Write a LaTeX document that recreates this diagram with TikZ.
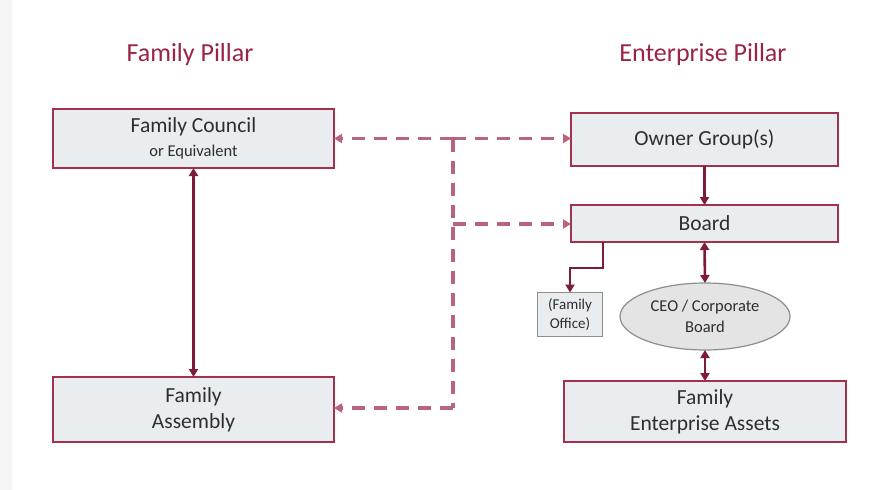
\documentclass[tikz,border=0pt]{standalone}
\usepackage{fontspec}
\setmainfont{Carlito}
\usetikzlibrary{arrows.meta,shapes.geometric}
\definecolor{titlered}{HTML}{9B2445}
\definecolor{boxline}{HTML}{A2324C}
\definecolor{boxfill}{HTML}{E9EDEF}
\definecolor{solidarrow}{HTML}{7C1C36}
\definecolor{dasharrow}{HTML}{B8647F}
\definecolor{textgrey}{HTML}{2E2E2E}
\definecolor{greyline}{HTML}{8E8E8E}
\definecolor{ovalfill}{HTML}{E4E4E4}
\begin{document}
\begin{tikzpicture}[x=1pt,y=-1pt,
  title/.style={text=titlered,font=\fontsize{26}{31}\selectfont},
  pillarbox/.style={draw=boxline,line width=2pt,fill=boxfill,rectangle,
    inner sep=0pt,outer sep=0pt,text=textgrey,align=center,
    font=\fontsize{21.5}{26}\selectfont},
  officebox/.style={draw=greyline,line width=1.2pt,fill=boxfill,rectangle,
    inner sep=0pt,outer sep=0pt,text=textgrey,align=center,
    font=\fontsize{15}{19}\selectfont},
  oval/.style={draw=greyline,line width=1.2pt,fill=ovalfill,ellipse,
    inner sep=0pt,outer sep=0pt,text=textgrey,align=center,
    font=\fontsize{16.5}{21}\selectfont},
  solidlink/.style={draw=solidarrow,line width=2.6pt,
    arrows={-Triangle[length=8pt,width=9pt]}},
  solidboth/.style={solidlink,arrows={Triangle[length=8pt,width=9pt]-Triangle[length=8pt,width=9pt]}},
  dashlink/.style={draw=dasharrow,line width=3.2pt,dash pattern=on 13pt off 9pt,
    arrows={-Triangle[length=8pt,width=9pt]}},
  dashline/.style={draw=dasharrow,line width=3.2pt,dash pattern=on 13pt off 9pt}]

% page and the faint shaded strip on the left edge
\fill[white] (0,0) rectangle (871,490);
\fill[black!4] (0,0) rectangle (12,490);
\useasboundingbox (0,0) rectangle (871,490);

% column titles
\node[title] (famtitle) at (190,55) {Family Pillar};
\node[title] (enttitle) at (703,55) {Enterprise Pillar};

% family pillar
\node[pillarbox,minimum width=281pt,minimum height=59pt] (council) at (193.5,138.5)
  {Family Council\\[-2pt]{\fontsize{16.5}{20}\selectfont or Equivalent}};
\node[pillarbox,minimum width=281pt,minimum height=65pt] (assembly) at (193.5,409.5)
  {Family\\Assembly};

% enterprise pillar
\node[pillarbox,minimum width=267pt,minimum height=53pt] (owners) at (704.5,139)
  {Owner Group(s)};
\node[pillarbox,minimum width=267pt,minimum height=37pt] (board) at (704.5,223.5)
  {Board};
\node[officebox,minimum width=65pt,minimum height=44pt] (office) at (570,314.5)
  {(Family\\Office)};
\node[oval,minimum width=170pt,minimum height=67pt] (ceo) at (705,316.5)
  {CEO / Corporate\\Board};
\node[pillarbox,minimum width=282pt,minimum height=61pt] (assets) at (705,411.5)
  {Family\\Enterprise Assets};

% junction points of the dashed links
\coordinate (jtop) at (453,138.5);
\coordinate (jmid) at (453,224);
\coordinate (jbot) at (453,408);

% dashed links between the pillars
\draw[dashline] (jtop) -- (jbot);
\draw[dashlink] (jtop) -- (council.east |- jtop);
\draw[dashlink] (jtop) -- (owners.west |- jtop);
\draw[dashlink] (jmid) -- (board.west |- jmid);
\draw[dashlink] (jbot) -- (assembly.east |- jbot);

% solid links
\draw[solidboth] (council.south) -- (assembly.north);
\draw[solidlink] (owners.south) -- (board.north);
\draw[solidboth] (board.south) -- (ceo.north);
\draw[solidboth] (ceo.south) -- (assets.north);
\draw[solidlink,line width=2.4pt] (board.south -| 603,0) -- (603,268) -- (570,268) -- (office.north);

\end{tikzpicture}
\end{document}
